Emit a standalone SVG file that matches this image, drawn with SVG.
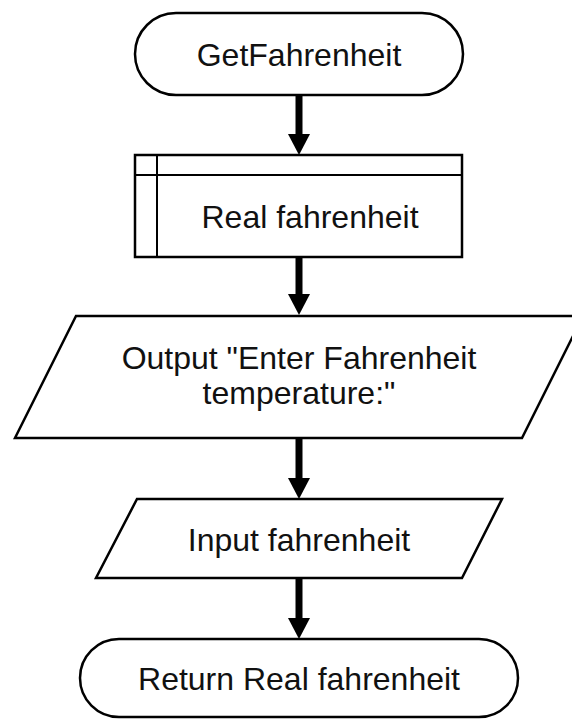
<svg xmlns="http://www.w3.org/2000/svg" width="572" height="719" viewBox="0 0 572 719">
<defs>
<style>
.shape{fill:#fff;stroke:#000;stroke-width:2.5}
.inner{fill:none;stroke:#000;stroke-width:2}
.lbl{font-family:"Liberation Sans",Arial,sans-serif;font-size:32px;fill:#111;text-anchor:middle}
.conn{stroke:#000;stroke-width:7;fill:none}
</style>
<marker id="ah" markerUnits="userSpaceOnUse" markerWidth="22" markerHeight="22" refX="0" refY="11" orient="auto" viewBox="0 0 22 22">
<path d="M0,0 L21,11 L0,22 Z" fill="#000"/>
</marker>
</defs>
<rect width="572" height="719" fill="#fff"/>
<g id="connectors">
<line class="conn" x1="299" y1="95" x2="299" y2="134" marker-end="url(#ah)"/>
<line class="conn" x1="299" y1="257" x2="299" y2="294" marker-end="url(#ah)"/>
<line class="conn" x1="299" y1="438" x2="299" y2="478" marker-end="url(#ah)"/>
<line class="conn" x1="299" y1="578" x2="299" y2="618" marker-end="url(#ah)"/>
</g>
<g id="start">
<rect class="shape" x="135" y="13" width="328" height="82" rx="41" ry="41"/>
<text class="lbl" x="299" y="66">GetFahrenheit</text>
</g>
<g id="declare">
<rect class="shape" x="135" y="155" width="327" height="102"/>
<line class="inner" x1="157" y1="155" x2="157" y2="257"/>
<line class="inner" x1="135" y1="175" x2="462" y2="175"/>
<text class="lbl" x="310" y="228">Real fahrenheit</text>
</g>
<g id="output">
<polygon class="shape" points="76,316 583,316 522,438 15,438"/>
<text class="lbl" x="299" y="369">Output "Enter Fahrenheit</text>
<text class="lbl" x="299" y="404">temperature:"</text>
</g>
<g id="input">
<polygon class="shape" points="137,499 502,499 462,578 96,578"/>
<text class="lbl" x="299" y="551">Input fahrenheit</text>
</g>
<g id="end">
<rect class="shape" x="80" y="639" width="438" height="78" rx="39" ry="39"/>
<text class="lbl" x="299" y="690">Return Real fahrenheit</text>
</g>
</svg>
